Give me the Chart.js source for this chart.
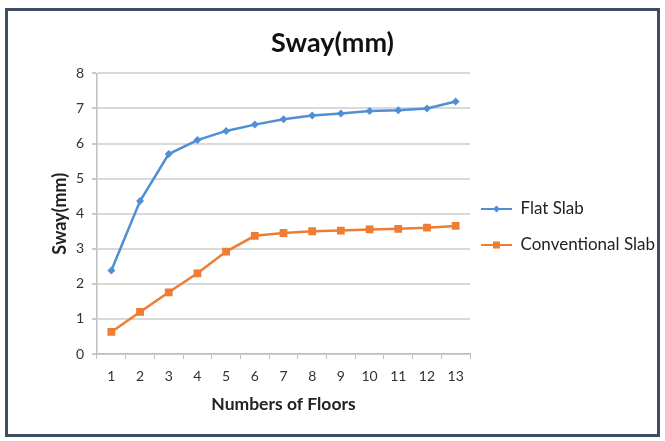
<!DOCTYPE html>
<html>
<head>
<meta charset="utf-8">
<script src="https://cdn.jsdelivr.net/npm/chart.js@4.4.1/dist/chart.umd.min.js"></script>
<style>
  html, body { margin: 0; padding: 0; background: #ffffff; }
  #frame {
    position: absolute; left: 5px; top: 8px;
    width: 649px; height: 423px;
    border: 3px solid #3e4d60;
    background: #ffffff;
  }
  #frame canvas { display: block; }
</style>
</head>
<body>
<div id="frame"><canvas id="sway-chart" width="649" height="423"></canvas></div>
<script>
const floors = ['1', '2', '3', '4', '5', '6', '7', '8', '9', '10', '11', '12', '13'];
const flatSlab = [2.38, 4.36, 5.7, 6.1, 6.36, 6.54, 6.69, 6.8, 6.86, 6.93, 6.95, 7.0, 7.2];
const conventionalSlab = [0.63, 1.2, 1.76, 2.3, 2.92, 3.37, 3.45, 3.5, 3.52, 3.55, 3.57, 3.6, 3.65];
const yTicks = [0, 1, 2, 3, 4, 5, 6, 7, 8];

const blue = '#4f8fd6';
const orange = '#ee7d31';
const fontName = 'Lato, "Open Sans", sans-serif';

// small picture of line + marker for the legend
function legendIcon(color, square) {
    const c = document.createElement('canvas');
    c.width = 31;
    c.height = 10;
    const g = c.getContext('2d');
    g.strokeStyle = color;
    g.lineWidth = 2;
    g.beginPath();
    g.moveTo(0, 5);
    g.lineTo(31, 5);
    g.stroke();
    g.fillStyle = color;
    if (square) {
        g.fillRect(12, 1.5, 7, 7);
    } else {
        g.beginPath();
        g.moveTo(15.5, 1.5);
        g.lineTo(19, 5);
        g.lineTo(15.5, 8.5);
        g.lineTo(12, 5);
        g.closePath();
        g.fill();
    }
    return c;
}

// legend box gets a fixed width so the plot ends where the original does
const legendSizer = {
    id: 'legendSizer',
    beforeLayout(chart) {
        const lg = chart.legend;
        if (lg && !lg._sized) {
            const fit = lg.fit;
            lg.fit = function() {
                fit.call(this);
                this.width = 187;
            };
            lg._sized = true;
        }
    },
    afterLayout(chart) {
        const lg = chart.legend;
        if (lg) {
            lg.left -= 8;
            lg.top += 12;
            lg.bottom += 12;
        }
    }
};

document.addEventListener('DOMContentLoaded', function(){
    const ctx = document.getElementById('sway-chart').getContext('2d');
    const icons = [legendIcon(blue, false), legendIcon(orange, true)];

    new Chart(ctx, {
        type: 'line',
        data: {
            labels: floors,
            datasets: [{
                label: 'Flat Slab',
                data: flatSlab,
                borderColor: blue,
                backgroundColor: blue,
                borderWidth: 2.5,
                pointStyle: 'rectRot',
                pointRadius: 4,
                pointBorderWidth: 0,
                tension: 0
            }, {
                label: 'Conventional Slab',
                data: conventionalSlab,
                borderColor: orange,
                backgroundColor: orange,
                borderWidth: 2.5,
                pointStyle: 'rect',
                pointRadius: 5.5,
                pointBorderWidth: 0,
                tension: 0
            }]
        },
        plugins: [legendSizer],
        options: {
            responsive: false,
            animation: false,
            layout: {
                padding: { top: 0, right: 0, bottom: 15, left: 0 }
            },
            plugins: {
                title: {
                    display: true,
                    text: 'Sway(mm)',
                    color: '#111111',
                    font: { family: fontName, size: 27, weight: 'bold' },
                    padding: { top: 16, bottom: 14 }
                },
                legend: {
                    position: 'right',
                    align: 'center',
                    labels: {
                        usePointStyle: true,
                        pointStyleWidth: 31,
                        boxHeight: 10,
                        color: '#222222',
                        font: { family: fontName, size: 17 },
                        padding: 19,
                        generateLabels: function(chart) {
                            return chart.data.datasets.map(function(ds, i) {
                                return {
                                    text: ds.label,
                                    pointStyle: icons[i],
                                    fillStyle: ds.borderColor,
                                    strokeStyle: ds.borderColor,
                                    lineWidth: 0,
                                    fontColor: '#222222',
                                    datasetIndex: i
                                };
                            });
                        }
                    }
                },
                tooltip: { enabled: false }
            },
            scales: {
                x: {
                    offset: true,
                    grid: {
                        offset: true,
                        drawOnChartArea: false,
                        tickLength: 5,
                        color: '#bfbfbf'
                    },
                    border: { color: '#bfbfbf', width: 1.5 },
                    ticks: {
                        color: '#333333',
                        font: { family: fontName, size: 14 },
                        padding: 9,
                        maxRotation: 0
                    },
                    title: {
                        display: true,
                        text: 'Numbers of Floors',
                        color: '#222222',
                        font: { family: fontName, size: 17.5, weight: 'bold' },
                        padding: { top: 6, bottom: 4 }
                    },
                    afterFit: function(scale) { scale.height = 65; }
                },
                y: {
                    min: yTicks[0],
                    max: yTicks[yTicks.length - 1],
                    afterBuildTicks: function(scale) {
                        scale.ticks = yTicks.map(v => ({ value: v }));
                    },
                    grid: {
                        color: '#d9d9d9',
                        lineWidth: 2,
                        tickLength: 5,
                        tickColor: '#c8c8c8'
                    },
                    border: { color: '#bfbfbf', width: 1.5 },
                    ticks: {
                        color: '#333333',
                        font: { family: fontName, size: 14 },
                        padding: 8
                    },
                    title: {
                        display: true,
                        text: 'Sway(mm)',
                        color: '#222222',
                        font: { family: fontName, size: 18, weight: 'bold' },
                        padding: { top: 41, bottom: 4 }
                    },
                    afterFit: function(scale) { scale.width = 89; }
                }
            }
        }
    });
});
</script>
</body>
</html>
